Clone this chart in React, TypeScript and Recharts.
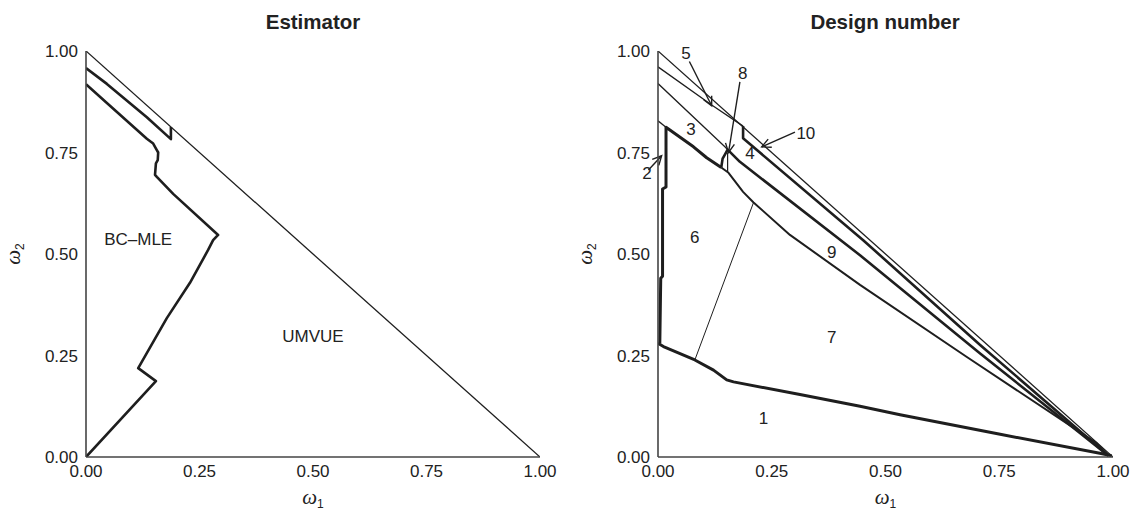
import React from 'react';
import { LineChart, Line, XAxis, YAxis, ReferenceDot, ReferenceLine } from 'recharts';

// ---------- shared ticks ----------
const axisTicks = [0, 0.25, 0.5, 0.75, 1];

// ---------- left panel (Estimator) ----------
const leftDiagonal = [{ x: 0, y: 1 }, { x: 1, y: 0 }];
const leftUpperBoundary = [
  { x: 0, y: 0.958 }, { x: 0.046, y: 0.919 }, { x: 0.134, y: 0.837 },
  { x: 0.187, y: 0.783 }, { x: 0.187, y: 0.813 },
];
const leftMainBoundary = [
  { x: 0, y: 0.918 }, { x: 0.046, y: 0.872 }, { x: 0.134, y: 0.784 },
  { x: 0.148, y: 0.772 }, { x: 0.156, y: 0.756 }, { x: 0.159, y: 0.75 },
  { x: 0.158, y: 0.731 }, { x: 0.154, y: 0.723 }, { x: 0.152, y: 0.695 },
  { x: 0.156, y: 0.69 }, { x: 0.192, y: 0.648 }, { x: 0.291, y: 0.547 },
  { x: 0.28, y: 0.534 }, { x: 0.269, y: 0.51 }, { x: 0.229, y: 0.429 },
  { x: 0.178, y: 0.342 }, { x: 0.115, y: 0.219 }, { x: 0.154, y: 0.187 },
  { x: 0, y: 0 },
];
const leftLabels = [
  { x: 0.115, y: 0.537, text: 'BC\u2013MLE' },
  { x: 0.5, y: 0.297, text: 'UMVUE' },
];

// ---------- right panel (Design number) ----------
const rightDiagonal = [{ x: 0, y: 1 }, { x: 1, y: 0 }];
const rightLine5 = [{ x: 0, y: 0.961 }, { x: 0.118, y: 0.867 }, { x: 0.187, y: 0.815 }];
const rightThickA = [
  { x: 0.187, y: 0.815 }, { x: 0.187, y: 0.785 }, { x: 0.451, y: 0.534 },
  { x: 0.708, y: 0.276 }, { x: 0.99, y: 0.003 },
];
const rightLine3 = [{ x: 0, y: 0.92 }, { x: 0.147, y: 0.764 }, { x: 0.153, y: 0.757 }];
const rightThickB = [
  { x: 0.139, y: 0.713 }, { x: 0.142, y: 0.735 }, { x: 0.147, y: 0.745 },
  { x: 0.153, y: 0.757 }, { x: 0.18, y: 0.727 }, { x: 0.444, y: 0.497 },
  { x: 0.708, y: 0.255 }, { x: 0.99, y: 0.003 },
];
const rightLine2Top = [{ x: 0, y: 0.828 }, { x: 0.0176, y: 0.812 }];
const rightThickD = [
  { x: 0.004, y: 0.28 }, { x: 0.006, y: 0.44 }, { x: 0.01, y: 0.445 },
  { x: 0.01, y: 0.66 }, { x: 0.0176, y: 0.665 }, { x: 0.0176, y: 0.812 },
  { x: 0.078, y: 0.764 }, { x: 0.107, y: 0.737 }, { x: 0.139, y: 0.713 },
];
const rightLine9 = [
  { x: 0.139, y: 0.713 }, { x: 0.155, y: 0.7 }, { x: 0.187, y: 0.653 },
  { x: 0.21, y: 0.627 }, { x: 0.29, y: 0.547 }, { x: 0.444, y: 0.424 },
  { x: 0.678, y: 0.247 }, { x: 0.964, y: 0.034 }, { x: 0.99, y: 0.003 },
];
const rightDivider49 = [{ x: 0.153, y: 0.75 }, { x: 0.153, y: 0.7 }];
const rightDivider67 = [{ x: 0.21, y: 0.627 }, { x: 0.081, y: 0.239 }];
const rightBottom = [
  { x: 0, y: 0.28 }, { x: 0.012, y: 0.272 }, { x: 0.081, y: 0.239 },
  { x: 0.122, y: 0.214 }, { x: 0.151, y: 0.19 }, { x: 0.166, y: 0.185 },
  { x: 0.312, y: 0.154 }, { x: 0.444, y: 0.125 }, { x: 0.532, y: 0.104 },
  { x: 0.752, y: 0.056 }, { x: 0.971, y: 0.009 }, { x: 0.997, y: 0.003 },
];
const rightLabels = [
  { x: 0.232, y: 0.095, text: '1' },
  { x: -0.024, y: 0.699, text: '2' },
  { x: 0.0725, y: 0.807, text: '3' },
  { x: 0.202, y: 0.748, text: '4' },
  { x: 0.0615, y: 0.994, text: '5' },
  { x: 0.081, y: 0.543, text: '6' },
  { x: 0.382, y: 0.296, text: '7' },
  { x: 0.186, y: 0.947, text: '8' },
  { x: 0.382, y: 0.506, text: '9' },
  { x: 0.325, y: 0.797, text: '10' },
];
const rightArrows = [
  { id: 'a5', from: { x: 0.069, y: 0.974 }, to: { x: 0.118, y: 0.865 } },
  { id: 'a8', from: { x: 0.18, y: 0.924 }, to: { x: 0.155, y: 0.75 } },
  { id: 'a10', from: { x: 0.301, y: 0.8 }, to: { x: 0.228, y: 0.764 } },
  { id: 'a2', from: { x: -0.021, y: 0.707 }, to: { x: 0.008, y: 0.742 } },
];

const INK = '#1e1e1e';
const SANS = '"Liberation Sans", Arial, Helvetica, sans-serif';
const SERIF = '"Liberation Serif", "Times New Roman", serif';

const tickStyle = { fontSize: 17, fill: '#222', fontFamily: SANS };
const fmt = (v: number) => v.toFixed(2);

const arrowShape = (id: string) => (props: any) => {
  const { x1, y1, x2, y2 } = props;
  return (
    <g>
      <defs>
        <marker id={id} markerWidth={12} markerHeight={12} refX={10} refY={6} orient="auto" markerUnits="userSpaceOnUse">
          <path d="M1,1.5 L10,6 L1,10.5" fill="none" stroke={INK} strokeWidth={1.4} />
        </marker>
      </defs>
      <line x1={x1} y1={y1} x2={x2} y2={y2} stroke={INK} strokeWidth={1.4} markerEnd={`url(#${id})`} />
    </g>
  );
};

const XLabel = (props: any) => {
  const vb = props.viewBox || {};
  const cx = vb.x + vb.width / 2;
  const y = vb.y + 47;
  return (
    <text x={cx} y={y} textAnchor="middle" fill="#222">
      <tspan fontFamily={SERIF} fontStyle="italic" fontSize={21}>ω</tspan>
      <tspan fontFamily={SANS} fontSize={12} dy={4}>1</tspan>
    </text>
  );
};

const YLabel = (props: any) => {
  const vb = props.viewBox || {};
  const cx = vb.x + vb.width - 66;
  const cy = vb.y + vb.height / 2;
  return (
    <text x={cx} y={cy} textAnchor="middle" fill="#222" transform={`rotate(-90, ${cx}, ${cy})`}>
      <tspan fontFamily={SERIF} fontStyle="italic" fontSize={21}>ω</tspan>
      <tspan fontFamily={SANS} fontSize={12} dy={4}>2</tspan>
    </text>
  );
};

const axes = () => [
  <XAxis
    key="x"
    type="number"
    dataKey="x"
    domain={[0, 1]}
    ticks={axisTicks}
    tickFormatter={fmt}
    tickLine={false}
    tick={tickStyle}
    height={40}
    axisLine={{ stroke: '#444', strokeWidth: 1.6 }}
    allowDataOverflow
    label={<XLabel />}
  />,
  <YAxis
    key="y"
    type="number"
    dataKey="y"
    domain={[0, 1]}
    ticks={axisTicks}
    tickFormatter={fmt}
    tickLine={false}
    tick={tickStyle}
    width={60}
    axisLine={{ stroke: '#444', strokeWidth: 1.6 }}
    allowDataOverflow
    label={<YLabel />}
  />,
];

const series = (name: string, data: any[], width: number) => (
  <Line
    key={name}
    name={name}
    data={data}
    dataKey="y"
    type="linear"
    stroke={INK}
    strokeWidth={width}
    dot={false}
    activeDot={false}
    isAnimationActive={false}
    strokeLinejoin="round"
  />
);

const textLabel = (l: any, i: number) => (
  <ReferenceDot
    key={`l${i}`}
    x={l.x}
    y={l.y}
    r={0}
    fill="none"
    stroke="none"
    ifOverflow="visible"
    label={{ value: l.text, position: 'center', fontSize: 17, fill: '#222', fontFamily: SANS }}
  />
);

const titleStyle: React.CSSProperties = {
  position: 'absolute',
  top: 10,
  fontFamily: SANS,
  fontWeight: 'bold',
  fontSize: 20.5,
  color: '#222',
  textAlign: 'center',
  width: 300,
  lineHeight: '24px',
};

export default function App() {
  return (
    <div style={{ position: 'absolute', left: 0, top: 0, width: 1138, height: 515, background: '#fff', overflow: 'hidden' }}>
      <div style={{ ...titleStyle, left: 313 - 150 }}>Estimator</div>
      <div style={{ ...titleStyle, left: 885 - 150 }}>Design number</div>

      <div style={{ position: 'absolute', left: 0, top: 0 }}>
        <LineChart width={570} height={515} margin={{ top: 51, right: 30, bottom: 18, left: 26 }}>
          {axes()}
          {series('leftDiagonal', leftDiagonal, 1.3)}
          {series('leftUpperBoundary', leftUpperBoundary, 2.6)}
          {series('leftMainBoundary', leftMainBoundary, 2.6)}
          {leftLabels.map(textLabel)}
        </LineChart>
      </div>

      <div style={{ position: 'absolute', left: 570, top: 0 }}>
        <LineChart width={568} height={515} margin={{ top: 51, right: 25, bottom: 18, left: 28 }}>
          {axes()}
          {series('rightDiagonal', rightDiagonal, 1.3)}
          {series('rightLine5', rightLine5, 1.3)}
          {series('rightThickA', rightThickA, 2.6)}
          {series('rightLine3', rightLine3, 1.3)}
          {series('rightThickB', rightThickB, 2.6)}
          {series('rightLine2Top', rightLine2Top, 1.3)}
          {series('rightThickD', rightThickD, 3)}
          {series('rightLine9', rightLine9, 2)}
          {series('rightDivider49', rightDivider49, 1.2)}
          {series('rightDivider67', rightDivider67, 1)}
          {series('rightBottom', rightBottom, 3)}
          {rightLabels.map(textLabel)}
          {rightArrows.map((a) => (
            <ReferenceLine
              key={a.id}
              segment={[a.from, a.to]}
              ifOverflow="visible"
              stroke={INK}
              shape={arrowShape(a.id)}
            />
          ))}
        </LineChart>
      </div>
    </div>
  );
}
